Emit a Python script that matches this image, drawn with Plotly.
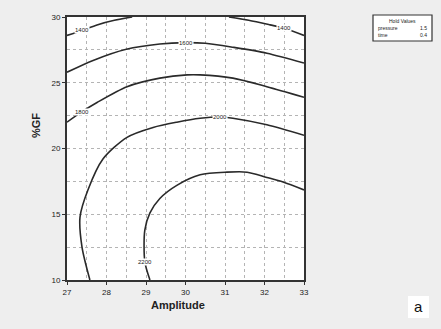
import plotly.graph_objects as go

levels = [1400, 1600, 1800, 2000, 2200]

c1400_left_x = [27.0, 27.4, 27.76, 28.2, 28.65]
c1400_left_y = [28.6, 29.0, 29.4, 29.75, 30.0]
c1400_right_x = [31.1, 31.6, 32.14, 32.5, 33.0]
c1400_right_y = [30.0, 29.75, 29.4, 29.15, 28.6]

c1600_x = [27.0, 27.66, 28.5, 29.35, 30.0, 30.5, 31.2, 32.06, 33.0]
c1600_y = [25.8, 26.7, 27.55, 27.95, 28.05, 28.0, 27.7, 27.25, 26.5]

c1800_x = [27.0, 27.38, 27.76, 28.52, 29.35, 30.04, 30.37, 31.2, 32.06, 33.0]
c1800_y = [22.0, 22.8, 23.5, 24.7, 25.35, 25.6, 25.6, 25.35, 24.7, 23.9]

c2000_x = [27.58, 27.38, 27.33, 27.53, 27.91, 28.52, 29.18, 29.78, 30.37, 30.87, 31.2, 32.06, 33.0]
c2000_y = [10.0, 12.5, 14.8, 16.85, 19.2, 20.85, 21.6, 22.0, 22.3, 22.4, 22.3, 21.8, 21.0]

c2200_x = [29.1, 28.97, 28.97, 29.1, 29.35, 29.78, 30.37, 31.05, 31.56, 32.06, 32.47, 33.0]
c2200_y = [10.0, 11.4, 13.8, 15.1, 16.2, 17.2, 18.0, 18.2, 18.2, 17.8, 17.45, 16.85]

label_text = ["1400", "1400", "1600", "1800", "2000", "2200"]
label_x = [27.38, 32.5, 30.0, 27.38, 30.87, 28.97]
label_y = [29.0, 29.15, 28.05, 22.8, 22.4, 11.4]

x_ticks = [27, 28, 29, 30, 31, 32, 33]
y_ticks = [10, 15, 20, 25, 30]

hold_names = ["pressure", "time"]
hold_values = [1.5, 0.4]

lines = [
    (c1400_left_x, c1400_left_y),
    (c1400_right_x, c1400_right_y),
    (c1600_x, c1600_y),
    (c1800_x, c1800_y),
    (c2000_x, c2000_y),
    (c2200_x, c2200_y),
]

fig = go.Figure()
for xs, ys in lines:
    fig.add_trace(go.Scatter(
        x=xs, y=ys, mode="lines",
        line=dict(color="#2a2a2a", width=1.6, shape="spline", smoothing=0.8),
        showlegend=False, hoverinfo="skip", cliponaxis=True,
    ))

font = "Liberation Sans, Arial, sans-serif"
for t, lx, ly in zip(label_text, label_x, label_y):
    fig.add_annotation(
        x=lx, y=ly, text=t, showarrow=False, xanchor="center", yanchor="middle",
        font=dict(family=font, size=6, color="#222"),
        bgcolor="white", borderpad=0,
    )

grid_col = "#b4b4b4"
fig.update_xaxes(
    range=[27, 33], tickvals=x_ticks, ticktext=[str(v) for v in x_ticks],
    showgrid=True, gridcolor=grid_col, griddash="dot", gridwidth=1,
    minor=dict(dtick=0.5, showgrid=True, gridcolor=grid_col, griddash="dot", ticks=""),
    showline=True, linecolor="#333", linewidth=2, mirror=True,
    ticks="outside", ticklen=3, tickcolor="#333",
    tickfont=dict(family=font, size=8, color="#222"), zeroline=False,
)
fig.update_yaxes(
    range=[10, 30], tickvals=y_ticks, ticktext=[str(v) for v in y_ticks],
    showgrid=True, gridcolor=grid_col, griddash="dot", gridwidth=1,
    minor=dict(dtick=2.5, showgrid=True, gridcolor=grid_col, griddash="dot", ticks=""),
    showline=True, linecolor="#333", linewidth=2, mirror=True,
    ticks="outside", ticklen=3, tickcolor="#333",
    tickfont=dict(family=font, size=8, color="#222"), zeroline=False,
)

def px_x(p):
    return (p - 67) / 237

def px_y(p):
    return (280 - p) / 263

# Axis titles
fig.add_annotation(xref="paper", yref="paper", x=px_x(178), y=px_y(305),
                   xanchor="center", yanchor="middle",
                   text="<b>Amplitude</b>", showarrow=False,
                   font=dict(family=font, size=11, color="#222"))
fig.add_annotation(xref="paper", yref="paper", x=px_x(36), y=px_y(126), textangle=-90,
                   xanchor="center", yanchor="middle",
                   text="<b>%GF</b>", showarrow=False,
                   font=dict(family=font, size=11, color="#222"))

# Hold values box
fig.add_shape(type="rect", xref="paper", yref="paper",
              x0=px_x(373), x1=px_x(432), y0=px_y(41), y1=px_y(15),
              line=dict(color="#333", width=1.2), fillcolor="white", layer="below")
fig.add_annotation(xref="paper", yref="paper", x=px_x(402.5), y=px_y(21),
                   xanchor="center", yanchor="middle",
                   text="Hold Values", showarrow=False,
                   font=dict(family=font, size=5, color="#222"))
for i, (n, v) in enumerate(zip(hold_names, hold_values)):
    yy = px_y(28 + 7 * i)
    fig.add_annotation(xref="paper", yref="paper", x=px_x(376), y=yy,
                       xanchor="left", yanchor="middle", text=n, showarrow=False,
                       font=dict(family=font, size=5, color="#222"))
    fig.add_annotation(xref="paper", yref="paper", x=px_x(429), y=yy,
                       xanchor="right", yanchor="middle", text=str(v), showarrow=False,
                       font=dict(family=font, size=5, color="#222"))

# panel letter
fig.add_shape(type="rect", xref="paper", yref="paper",
              x0=px_x(408), x1=px_x(429), y0=px_y(318), y1=px_y(296),
              line=dict(width=0), fillcolor="white", layer="below")
fig.add_annotation(xref="paper", yref="paper", x=px_x(418.5), y=px_y(306),
                   xanchor="center", yanchor="middle",
                   text="a", showarrow=False,
                   font=dict(family=font, size=15, color="#111"))

fig.update_layout(
    width=441, height=329,
    margin=dict(l=67, r=137, t=17, b=49),
    paper_bgcolor="#eeeeee", plot_bgcolor="white",
    showlegend=False,
)

fig.write_html("out.html", config={"displayModeBar": False},
               post_script="document.body.style.margin='0';document.body.style.padding='0';document.body.style.overflow='hidden';")
